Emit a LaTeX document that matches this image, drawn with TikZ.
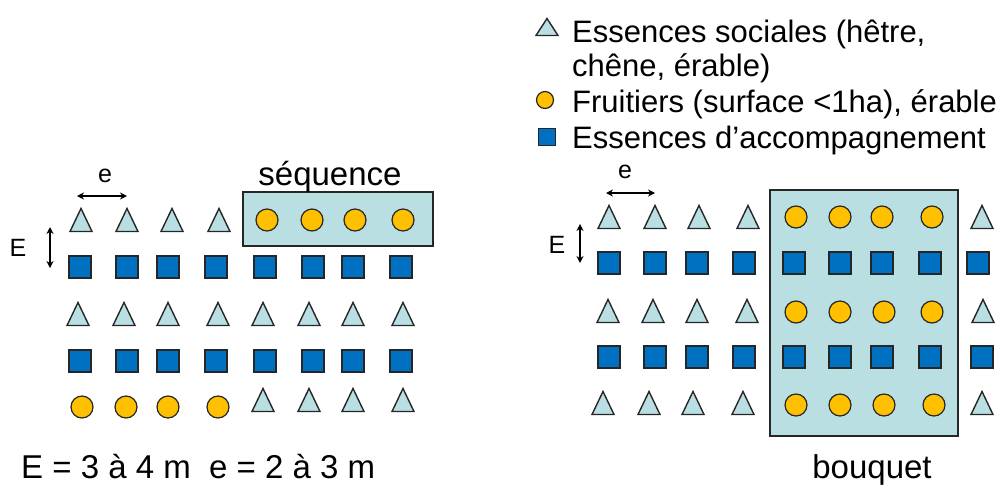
\documentclass[tikz,border=0pt]{standalone}
\usepackage{fontspec}
\setmainfont{Liberation Sans}
\usetikzlibrary{arrows.meta}
\definecolor{socfill}{HTML}{B9DFE3}
\definecolor{boxfill}{HTML}{B9DFE3}
\definecolor{fruitfill}{HTML}{FFC000}
\definecolor{accfill}{HTML}{0070C0}
\definecolor{edge}{HTML}{262626}
\tikzset{
  tri/.style={draw=edge, fill=socfill, line width=1.4pt, line join=miter},
  fruit/.style={draw=edge, fill=fruitfill, line width=1.2pt},
  acc/.style={draw=edge, fill=accfill, line width=1.2pt},
  zone/.style={draw=edge, fill=boxfill, line width=1.4pt},
  bigtxt/.style={font=\fontsize{33}{38}\selectfont, inner sep=0pt},
  legtxt/.style={font=\fontsize{31}{36}\selectfont, inner sep=0pt, anchor=base west},
  smalltxt/.style={font=\fontsize{25}{29}\selectfont, inner sep=0pt},
  dim/.style={{Stealth[length=7pt,width=7pt]}-{Stealth[length=7pt,width=7pt]}, line width=1.2pt}
}
\newcommand\Tri[2]{\draw[tri] (#1,#2) ++(0,-11.5) -- ++(11,23) -- ++(-22,0) -- cycle;}
\newcommand\Fru[2]{\draw[fruit] (#1,#2) circle[radius=11];}
\newcommand\Acc[2]{\draw[acc] (#1,#2) ++(-11,-11) rectangle ++(22,22);}
\begin{document}
\begin{tikzpicture}[x=1pt,y=-1pt]
\useasboundingbox (0,0) rectangle (1006,488);
% ---------- legend ----------
\draw[tri] (547,18.5) -- (558,35.5) -- (536,35.5) -- cycle;
\node[legtxt] (l1) at (572,42) {Essences sociales (hêtre,};
\node[legtxt] (l2) at (572,76) {chêne, érable)};
\draw[fruit] (545,100) circle[radius=8.5];
\node[legtxt] (l3) at (572,112) {Fruitiers (surface <1ha), érable};
\draw[acc] (538.5,128.5) rectangle (555.5,145.5);
\node[legtxt] (l4) at (572,148) {Essences d’accompagnement};
% ---------- left diagram ----------
\draw[zone] (243,192) rectangle (433,246);
\node[bigtxt, anchor=base] (seq) at (330,185) {séquence};
\foreach \x in {81,127,172,219} {\Tri{\x}{220}}
\foreach \x in {267,312,355,403} {\Fru{\x}{220}}
\foreach \x in {80,127,168,216,265,313,353,401} {\Acc{\x}{267}}
\foreach \x in {78,124,168,218,263,309,353,403} {\Tri{\x}{314}}
\foreach \x in {80,127,168,216,265,313,353,401} {\Acc{\x}{361}}
\foreach \x in {82,126,168,218} {\Fru{\x}{407}}
\foreach \x in {263,309,353,403} {\Tri{\x}{400}}
\coordinate (le1) at (77,196);
\coordinate (le2) at (127,196);
\draw[dim] (le1) -- (le2);
\node[smalltxt] (lel) at (105,176) {e};
\coordinate (lE1) at (50,227);
\coordinate (lE2) at (50,268);
\draw[dim] (lE1) -- (lE2);
\node[smalltxt] (lEl) at (18,248) {E};
\node[bigtxt, anchor=base west] (form) at (21,478) {E = 3 à 4 m\ \ e = 2 à 3 m};
% ---------- right diagram ----------
\draw[zone] (770,190) rectangle (958,436);
\node[bigtxt, anchor=base] (bq) at (872,478) {bouquet};
\foreach \x in {609,655,699,748,982} {\Tri{\x}{217}}
\foreach \x in {796,840,882,932} {\Fru{\x}{217}}
\foreach \x in {609,655,697,744,794,840,882,930,978} {\Acc{\x}{263}}
\foreach \x in {608,653,697,747,983} {\Tri{\x}{311}}
\foreach \x in {796,840,884,932} {\Fru{\x}{312}}
\foreach \x in {609,655,697,744,794,840,882,930,982} {\Acc{\x}{357}}
\foreach \x in {603,649,693,743,982} {\Tri{\x}{403}}
\foreach \x in {796,840,884,934} {\Fru{\x}{405}}
\coordinate (re1) at (606,193);
\coordinate (re2) at (655,193);
\draw[dim] (re1) -- (re2);
\node[smalltxt] (rel) at (625,172) {e};
\coordinate (rE1) at (580,224);
\coordinate (rE2) at (580,263);
\draw[dim] (rE1) -- (rE2);
\node[smalltxt] (rEl) at (557,245) {E};
\end{tikzpicture}
\end{document}
